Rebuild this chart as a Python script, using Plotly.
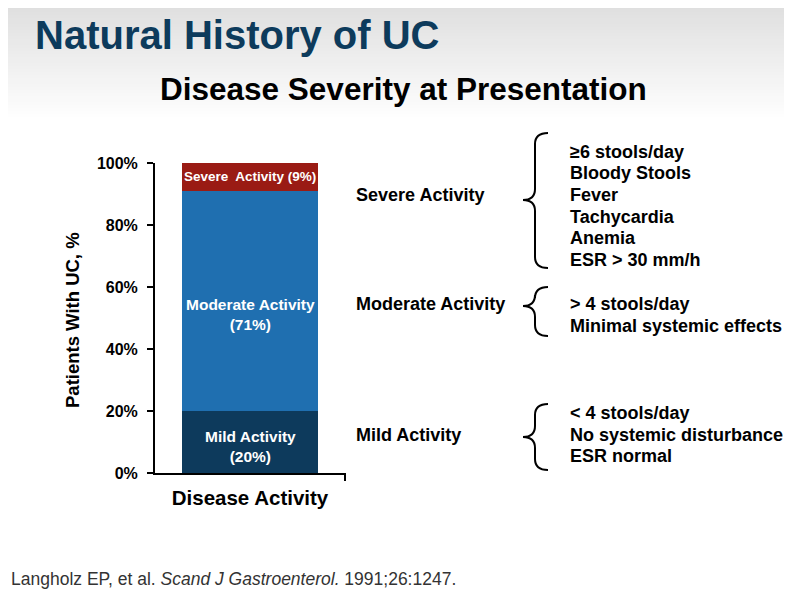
import plotly.graph_objects as go

# ---------------- data ----------------
categories = ["Disease Activity"]
levels = ["Mild Activity", "Moderate Activity", "Severe Activity"]
percents = [20, 71, 9]
bar_labels = ["Mild Activity<br>(20%)", "Moderate Activity<br>(71%)", "Severe  Activity (9%)"]
bar_colors = ["#0d3a5c", "#1f6fb0", "#9a1b14"]
label_sizes = [15.5, 15.5, 13.5]
label_shift = [-4, -14, 0]

criteria = {
    "Severe Activity": ["\u22656 stools/day", "Bloody Stools", "Fever", "Tachycardia", "Anemia", "ESR > 30 mm/h"],
    "Moderate Activity": ["> 4 stools/day", "Minimal systemic effects"],
    "Mild Activity": ["< 4 stools/day", "No systemic disturbance", "ESR normal"],
}
y_ticks = [0, 20, 40, 60, 80, 100]
y_tick_text = ["0%", "20%", "40%", "60%", "80%", "100%"]

# ---------------- layout geometry (reference pixels) ----------------
OFF = 8                      # page body margin
W, H = 792 - 2 * OFF, 597 - 2 * OFF
L, R_EDGE, T, B_EDGE = 155, 345, 163, 473
PW, PH = R_EDGE - L, B_EDGE - T


def px(x):
    return (x - L) / PW


def py(y):
    return (B_EDGE - y) / PH


FONT = "Liberation Sans"
fig = go.Figure()
annotations = []
base = 0
for lvl, val, lab, col, fs, sh in zip(levels, percents, bar_labels, bar_colors, label_sizes, label_shift):
    fig.add_trace(go.Bar(
        x=categories, y=[val], name=lvl, width=0.72,
        marker=dict(color=col, line=dict(width=0)),
        hoverinfo="skip",
    ))
    annotations.append(dict(text=f"<b>{lab}</b>", x=categories[0], y=base + val / 2, xref="x", yref="y",
                            xanchor="center", yanchor="middle", showarrow=False, yshift=sh,
                            font=dict(family=FONT, size=fs, color="white")))
    base += val

shapes = []
# gradient header background
n = 40
for i in range(n):
    y0 = i * 120 / n
    y1 = (i + 1) * 120 / n
    t = i / (n - 1)
    g = int(222 + (255 - 222) * t)
    shapes.append(dict(type="rect", xref="paper", yref="paper",
                       x0=px(0), x1=px(800), y0=py(y1), y1=py(y0 - 10 if i == 0 else y0),
                       fillcolor=f"rgb({g},{g},{g})", line=dict(width=0), layer="below"))
# small end tick on x-axis
shapes.append(dict(type="line", xref="paper", yref="paper",
                   x0=px(345), x1=px(345), y0=py(473), y1=py(481),
                   line=dict(color="black", width=2)))


def brace(yt, yb, ym, xt=523, xv=535, xe=548, r=11):
    pts = [
        f"M {px(xe)},{py(yt)}",
        f"Q {px(xv)},{py(yt)} {px(xv)},{py(yt + r)}",
        f"L {px(xv)},{py(ym - r)}",
        f"Q {px(xv)},{py(ym)} {px(xt)},{py(ym)}",
        f"Q {px(xv)},{py(ym)} {px(xv)},{py(ym + r)}",
        f"L {px(xv)},{py(yb - r)}",
        f"Q {px(xv)},{py(yb)} {px(xe)},{py(yb)}",
    ]
    return dict(type="path", xref="paper", yref="paper", path=" ".join(pts),
                line=dict(color="black", width=2))


shapes.append(brace(133, 268, 200))
shapes.append(brace(287, 336, 306))
shapes.append(brace(404, 470, 437))

# titles
annotations.append(dict(text="<b>Natural History of UC</b>", x=px(33), y=py(35), xref="paper", yref="paper",
                        xanchor="left", yanchor="middle", showarrow=False,
                        font=dict(family=FONT, size=40, color="#0d3b5c")))
annotations.append(dict(text="<b>Disease Severity at Presentation</b>", x=px(403), y=py(89), xref="paper", yref="paper",
                        xanchor="center", yanchor="middle", showarrow=False,
                        font=dict(family=FONT, size=31.5, color="black")))
# y-axis title
annotations.append(dict(text="<b>Patients With UC, %</b>", x=px(72), y=py(320), xref="paper", yref="paper",
                        xanchor="center", yanchor="middle", textangle=-90, showarrow=False,
                        font=dict(family=FONT, size=18.5, color="black")))

# right-side labels and criteria
label_y = {"Severe Activity": 195, "Moderate Activity": 304, "Mild Activity": 435}
list_y0 = {"Severe Activity": 152, "Moderate Activity": 304, "Mild Activity": 413}
for lvl in ["Severe Activity", "Moderate Activity", "Mild Activity"]:
    annotations.append(dict(text=f"<b>{lvl}</b>", x=px(354), y=py(label_y[lvl]), xref="paper", yref="paper",
                            xanchor="left", yanchor="middle", showarrow=False,
                            font=dict(family=FONT, size=18, color="black")))
    for k, item in enumerate(criteria[lvl]):
        annotations.append(dict(text=f"<b>{item}</b>", x=px(568), y=py(list_y0[lvl] + k * 21.5),
                                xref="paper", yref="paper", xanchor="left", yanchor="middle",
                                showarrow=False, font=dict(family=FONT, size=18, color="black")))

# footnote
annotations.append(dict(text="Langholz EP, et al. <i>Scand J Gastroenterol.</i> 1991;26:1247.",
                        x=px(9), y=py(579), xref="paper", yref="paper", xanchor="left", yanchor="middle",
                        showarrow=False, font=dict(family=FONT, size=17.5, color="#333333")))

fig.update_layout(
    width=W, height=H,
    margin=dict(l=L - OFF, r=W - (R_EDGE - OFF), t=T - OFF, b=H - (B_EDGE - OFF), pad=0),
    barmode="stack", showlegend=False,
    paper_bgcolor="white", plot_bgcolor="white",
    shapes=shapes, annotations=annotations,
)
fig.update_xaxes(showline=True, linecolor="black", linewidth=2, ticks="", showgrid=False,
                 range=[-0.5, 0.5], tickfont=dict(family=FONT, size=20.5, color="black", weight="bold"),
                 ticklabelstandoff=5, fixedrange=True)
fig.update_yaxes(showline=True, linecolor="black", linewidth=2, range=[0, 100], tickvals=y_ticks,
                 ticktext=y_tick_text, ticks="outside", ticklen=6, tickwidth=2, tickcolor="black",
                 showgrid=False, zeroline=False, ticklabelstandoff=6,
                 tickfont=dict(family=FONT, size=16, color="black", weight="bold"), fixedrange=True)

fig.write_html("out.html")
